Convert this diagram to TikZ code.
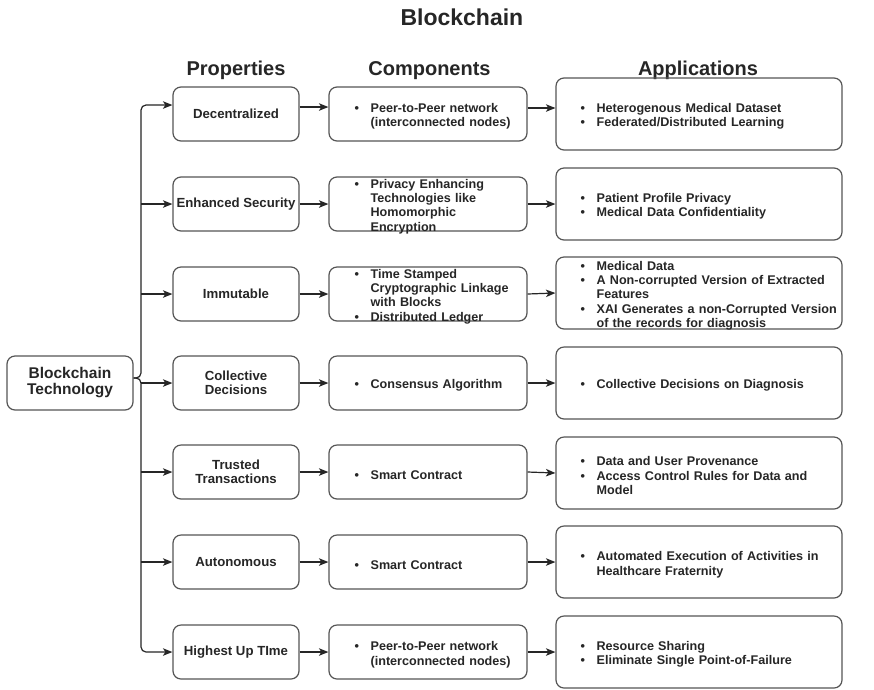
\documentclass[tikz,border=0pt]{standalone}
\usepackage{fontspec}
\setmainfont{Liberation Sans}
\usetikzlibrary{arrows.meta,calc}

\definecolor{edge}{HTML}{555555}
\definecolor{ink}{HTML}{262626}

% bulleted entry with a hanging indent; \newline inside keeps the
% paragraph, and the closing \par sets it while the indent is in force
\newcommand\bitem[1]{\par\hangindent=16pt\hangafter=1\noindent\makebox[16pt][l]{\textbullet}#1\par}
\newcommand\fsz[2]{\fontsize{#1}{#2}\selectfont}

\begin{document}
\begin{tikzpicture}[x=1pt,y=-1pt,
  box/.style={draw=edge, line width=1.2pt, rounded corners=8pt, text=ink},
  propbox/.style={box, minimum width=126pt, minimum height=54pt, align=center,
    inner sep=1pt, font=\bfseries\fsz{13.2}{14.5}},
  compbox/.style={box, minimum width=198pt, minimum height=54pt, inner sep=0pt},
  appbox/.style={box, minimum width=286pt, minimum height=72pt, inner sep=0pt},
  listtext/.style={anchor=west, text=ink, align=left, inner ysep=0pt,
    font=\bfseries\fsz{12.6}{14.3}},
  comptext/.style={listtext, text width=200pt, inner xsep=26pt},
  apptext/.style={listtext, text width=300pt, inner xsep=25pt},
  head/.style={anchor=base, text=ink, font=\bfseries\fsz{20}{24}},
  arr/.style={draw=ink, line width=1.2pt, -{Stealth[length=9.5pt,width=7.5pt,inset=2.5pt]}}
]
\useasboundingbox[fill=white] (0,0) rectangle (874,689);

% titles
\node[anchor=base west, text=ink, font=\bfseries\fsz{23}{26}] (title) at (397,25) {Blockchain};
\node[head] (hprop) at (236,75) {Properties};
\node[head] (hcomp) at (429.5,75) {Components};
\node[head] (happ) at (698,75) {Applications};

% root
\node[box, minimum width=126pt, minimum height=54pt, align=center, inner sep=1pt,
  font=\bfseries\fsz{15.5}{16}] (bt) at (70,383) {Blockchain\\Technology};

% properties
\node[propbox] (p1) at (236,114) {Decentralized};
\node[propbox] (p2) at (236,204) {Enhanced Security};
\node[propbox] (p3) at (236,294) {Immutable};
\node[propbox] (p4) at (236,383) {Collective\\Decisions};
\node[propbox] (p5) at (236,472) {Trusted\\Transactions};
\node[propbox] (p6) at (236,562) {Autonomous};
\node[propbox] (p7) at (236,652) {Highest Up TIme};

% components
\node[compbox] (c1) at (428,114) {};
\node[compbox] (c2) at (428,204) {};
\node[compbox] (c3) at (428,294) {};
\node[compbox] (c4) at (428,383) {};
\node[compbox] (c5) at (428,472) {};
\node[compbox] (c6) at (428,562) {};
\node[compbox] (c7) at (428,652) {};

\node[comptext] (c1t) at (c1.west) {\bitem{Peer-to-Peer network\newline(interconnected nodes)}};
\node[comptext] (c2t) at (c2.west) {\bitem{Privacy Enhancing\newline Technologies like\newline Homomorphic\newline Encryption}};
\node[comptext] (c3t) at (c3.west) {\bitem{Time Stamped\newline Cryptographic Linkage\newline with Blocks}\bitem{Distributed Ledger}};
\node[comptext] (c4t) at (c4.west) {\bitem{Consensus Algorithm}};
\node[comptext] (c5t) at (c5.west) {\bitem{Smart Contract}};
\node[comptext] (c6t) at (c6.west) {\bitem{Smart Contract}};
\node[comptext] (c7t) at (c7.west) {\bitem{Peer-to-Peer network\newline(interconnected nodes)}};

% applications
\node[appbox] (a1) at (699,114) {};
\node[appbox] (a2) at (699,204) {};
\node[appbox] (a3) at (699,293) {};
\node[appbox] (a4) at (699,383) {};
\node[appbox] (a5) at (699,473) {};
\node[appbox] (a6) at (699,562) {};
\node[appbox] (a7) at (699,652) {};

\node[apptext] (a1t) at (a1.west) {\bitem{Heterogenous Medical Dataset}\bitem{Federated/Distributed Learning}};
\node[apptext] (a2t) at (a2.west) {\bitem{Patient Profile Privacy}\bitem{Medical Data Confidentiality}};
\node[apptext] (a3t) at (a3.west) {\bitem{Medical Data}\bitem{A Non-corrupted Version of Extracted\newline Features}\bitem{XAI Generates a non-Corrupted Version\newline of the records for diagnosis}};
\node[apptext] (a4t) at (a4.west) {\bitem{Collective Decisions on Diagnosis}};
\node[apptext] (a5t) at (a5.west) {\bitem{Data and User Provenance}\bitem{Access Control Rules for Data and\newline Model}};
\node[apptext] (a6t) at (a6.west) {\bitem{Automated Execution of Activities in\newline Healthcare Fraternity}};
\node[apptext] (a7t) at (a7.west) {\bitem{Resource Sharing}\bitem{Eliminate Single Point-of-Failure}};

% bus from the root to the property boxes
\coordinate (bus) at (141,0);
\coordinate (btout) at ([yshift=5pt]bt.east);
\coordinate (p1in) at ([yshift=9pt]p1.west);
\draw[arr, rounded corners=5pt] (btout) -| (bus |- p1in) -- (p1in);
\draw[arr, rounded corners=5pt] (btout) -| (bus |- p7.west) -- (p7.west);
\foreach \i in {2,...,6}{
  \draw[arr] (bus |- p\i.west) -- (p\i.west);
}

% property -> component -> application
\draw[arr] ([yshift=7pt]p1.east) -- ([yshift=7pt]c1.west);
\draw[arr] ([yshift=6pt]c1.east) -- ([yshift=6pt]a1.west);
\foreach \i in {2,...,7}{
  \draw[arr] (p\i.east) -- (c\i.west);
  \draw[arr] (c\i.east) -- (a\i.west);
}
\end{tikzpicture}
\end{document}
